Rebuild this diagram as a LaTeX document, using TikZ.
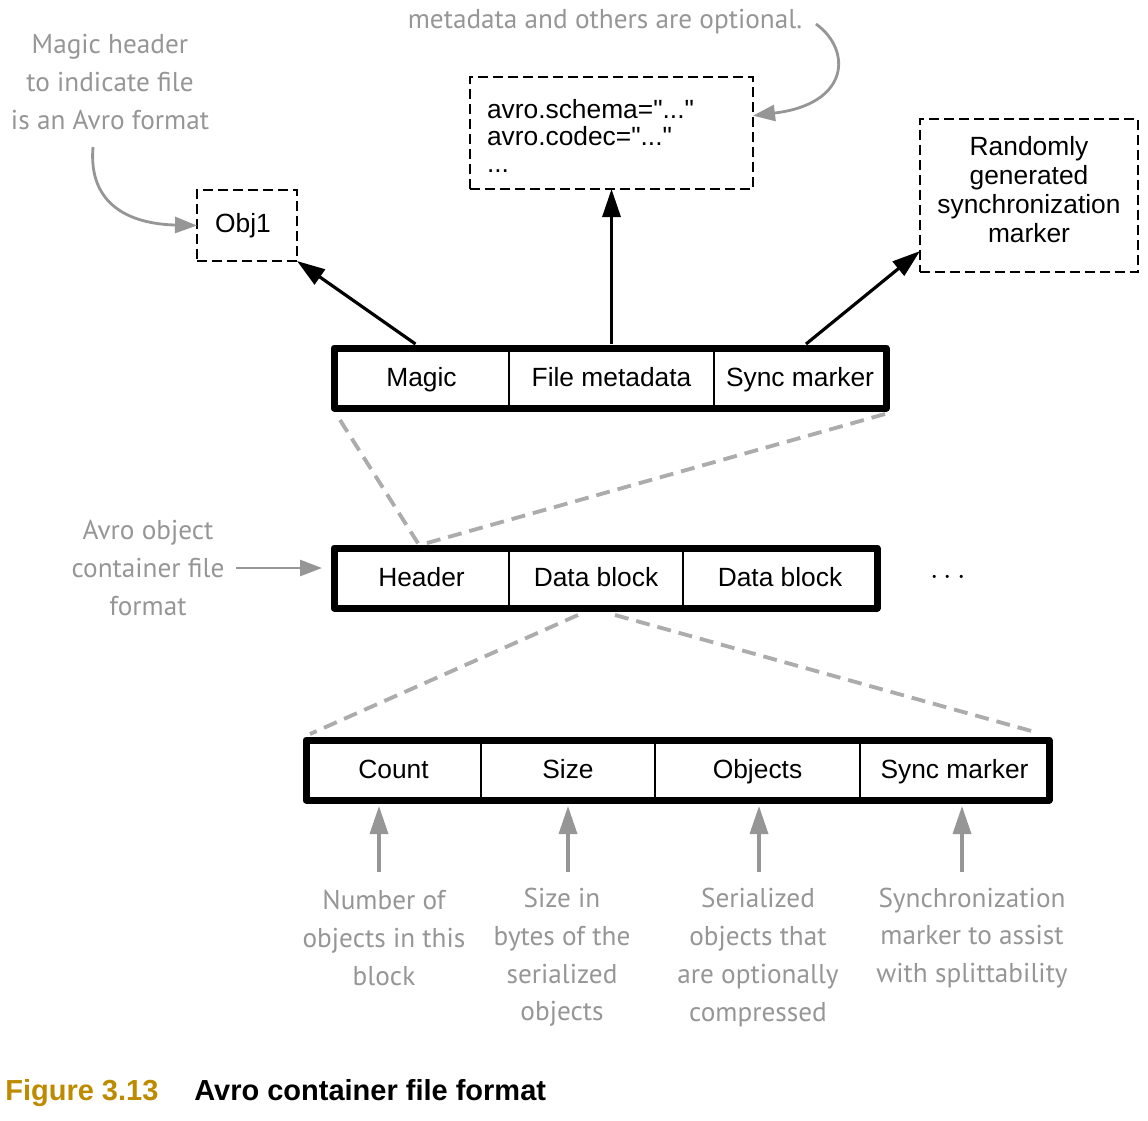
\documentclass[tikz,border=0pt]{standalone}
\usepackage{fontspec}
\setmainfont{Liberation Sans}
\newfontfamily\codefont{Liberation Sans}
\newfontfamily\handfont{PT Sans}
\usetikzlibrary{arrows.meta,calc}
\definecolor{anno}{RGB}{150,150,150}
\definecolor{dashg}{RGB}{172,172,172}
\definecolor{figgold}{RGB}{190,138,0}
\begin{document}
\begin{tikzpicture}[x=0.02cm,y=-0.02cm]
\def\u{0.02cm}
\useasboundingbox (0,0) rectangle (1148,1120);
\tikzset{
  cell/.style={draw, line width=1pt, inner sep=0pt, outer sep=0pt, minimum height=60*\u,
    text height=0.92em, text depth=0pt,
    font=\fontsize{15}{18}\selectfont, anchor=north west},
  frame/.style={draw, line width=0.14cm, line join=round},
  dbox/.style={draw, line width=0.8pt, dash pattern=on 0.2cm off 0.1cm, inner sep=0pt,
    outer sep=0pt, font=\fontsize{15}{18}\selectfont},
  barrow/.style={line width=1.8pt, -{Triangle[length=0.56cm,width=0.36cm]}},
  garrow/.style={draw=anno, line width=2pt, -{Triangle[length=0.56cm,width=0.36cm]}},
  gcarrow/.style={draw=anno, line width=1.6pt, -{Triangle[length=0.44cm,width=0.32cm]}},
  gdash/.style={draw=dashg, line width=2.2pt, dash pattern=on 0.28cm off 0.16cm},
  hand/.style={text=anno, align=center, inner sep=0pt, font=\handfont\fontsize{15.5}{21.5}\selectfont},
}

% ---------- top row ----------
\node[cell, minimum width=175*\u] (magic) at (334,348) {Magic};
\node[cell, minimum width=205*\u] (fmeta) at (509,348) {File metadata};
\node[cell, minimum width=172*\u] (sync1) at (714,348) {Sync marker};
\draw[frame] (magic.north west) rectangle (sync1.south east);

% ---------- middle row ----------
\node[cell, minimum width=175*\u] (header) at (334,548) {Header};
\node[cell, minimum width=174*\u] (data1) at (509,548) {Data block};
\node[cell, minimum width=194*\u] (data2) at (683,548) {Data block};
\draw[frame] (header.north west) rectangle (data2.south east);
\node[font=\fontsize{17}{18}\selectfont] (more) at (948,578) {$\cdots$};

% ---------- bottom row ----------
\node[cell, minimum width=175*\u] (count) at (306,740) {Count};
\node[cell, minimum width=174*\u] (size) at (481,740) {Size};
\node[cell, minimum width=205*\u] (objects) at (655,740) {Objects};
\node[cell, minimum width=189*\u] (sync2) at (860,740) {Sync marker};
\draw[frame] (count.north west) rectangle (sync2.south east);

% ---------- dashed boxes ----------
\node[dbox, minimum width=100*\u, minimum height=71*\u] (obj1) at (247,225.5) {Obj1\hspace*{0.16cm}};
\node[dbox, text width=249*\u, inner xsep=17*\u, minimum height=112*\u, align=left,
  font=\codefont\fontsize{15}{15.3}\selectfont] (meta) at (611.5,133)
  {\rule{0pt}{14pt}avro.schema="..."\\avro.codec="..."\\...};
\node[dbox, minimum width=218*\u, minimum height=153*\u, align=center,
  font=\fontsize{15}{16.4}\selectfont] (rand) at (1029,195.5)
  {Randomly\\generated\\synchronization\\marker\rule[-6.8pt]{0pt}{0pt}};

% ---------- black arrows ----------
\draw[barrow] ($(magic.north)+(-6,-4)$) -- (obj1.south east);
\draw[barrow] ($(fmeta.north)+(0,-4)$) -- (meta.south);
\draw[barrow] ($(sync1.north)+(6,-4)$) -- (rand.207);

% ---------- gray dashed expansion lines ----------
\draw[gdash] ($(magic.south west)+(6,12)$) -- ($(header.north)+(-3,-4)$);
\draw[gdash] ($(sync1.south east)+(-1,6)$) -- ($(header.north)+(2,-4)$);
\draw[gdash] ($(data1.south)+(-18,7)$) -- ($(count.north west)+(4,-6)$);
\draw[gdash] ($(data1.south)+(19,7)$) -- ($(sync2.north east)+(-14,-8)$);

% ---------- annotations ----------
\node[hand] (tmeta) at (605,22) {metadata and others are optional.};
\node[hand] (tmagic) at (110,82) {Magic header\\to indicate file\\is an Avro format};
\node[hand] (tavro) at (148,568) {Avro object\\container file\\format};
\node[hand] (tcount) at (384,938) {Number of\\objects in this\\block};
\node[hand] (tsize) at (562,957.5) {Size in\\bytes of the\\serialized\\objects};
\node[hand] (tobj) at (758,957.5) {Serialized\\objects that\\are optionally\\compressed};
\node[hand] (tsync) at (972,938) {Synchronization\\marker to assist\\with splittability};

\coordinate (c1) at (93,147);
\draw[gcarrow] (c1) .. controls (88,205) and (130,224) .. (obj1.west);
\coordinate (c2) at (816,24);
\draw[gcarrow] (c2) .. controls (852,50) and (850,104) .. (meta.7);
\coordinate (c3) at (236,568);
\draw[gcarrow] (c3) -- ($(header.west)+(-12,-10)$);

\coordinate (b1) at (379,872);
\coordinate (b2) at (568,872);
\coordinate (b3) at (759,872);
\coordinate (b4) at (962,872);
\draw[garrow] (b1) -- ($(b1 |- count.south)+(0,6)$);
\draw[garrow] (b2) -- ($(b2 |- size.south)+(0,6)$);
\draw[garrow] (b3) -- ($(b3 |- objects.south)+(0,6)$);
\draw[garrow] (b4) -- ($(b4 |- sync2.south)+(0,6)$);

% ---------- caption ----------
\node[anchor=base west, inner sep=0pt, text=figgold,
  font=\bfseries\fontsize{16.5}{20}\selectfont] (figlbl) at (5,1100) {Figure 3.13};
\node[anchor=base west, inner sep=0pt,
  font=\bfseries\fontsize{16.5}{20}\selectfont] (figttl) at (194,1100) {Avro container file format};
\end{tikzpicture}
\end{document}
